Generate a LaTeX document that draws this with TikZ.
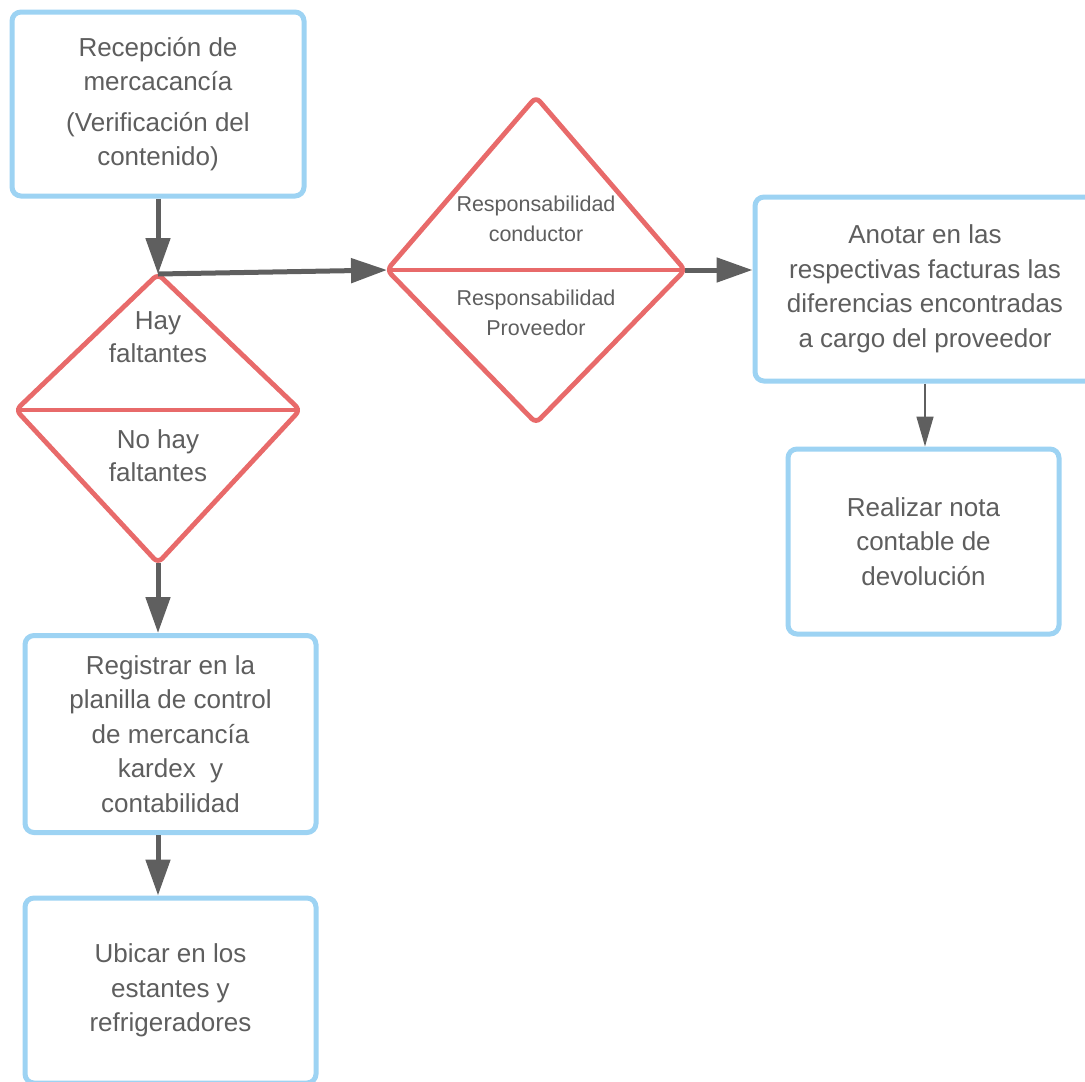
\documentclass[tikz,border=0pt]{standalone}
\usepackage{fontspec}
\setmainfont{Liberation Sans}
\usetikzlibrary{arrows.meta}
\definecolor{boxblue}{HTML}{9DD3F3}
\definecolor{decred}{HTML}{E86A6A}
\definecolor{flowgray}{HTML}{5F5F5F}
\definecolor{textgray}{HTML}{5E5E5E}
\begin{document}
\begin{tikzpicture}[x=1pt,y=-1pt,
  procbox/.style={draw=boxblue, line width=5pt, rounded corners=9pt, fill=white,
    text=textgray, align=center, inner sep=0pt,
    font=\fontsize{26}{34.5}\selectfont},
  decision/.style={draw=decred, line width=4.8pt, rounded corners=6pt, line join=round},
  dectext/.style={text=textgray, align=center, inner sep=0pt},
  flow/.style={draw=flowgray, line width=5pt, -{Triangle[length=36pt,width=24pt]}},
  thinflow/.style={draw=flowgray, line width=1.5pt, -{Triangle[length=30pt,width=17pt]}}
]
\useasboundingbox (0,0) rectangle (1085,1082);
\clip (0,0) rectangle (1085,1082);

% process boxes
\node[procbox, minimum width=292pt, minimum height=184pt] (recep) at (158,104)
  {Recepción de\\mercacancía\\[6pt](Verificación del\\contenido)};
\node[procbox, minimum width=291pt, minimum height=197pt] (registro) at (170.5,734)
  {Registrar en la\\planilla de control\\de mercancía\\kardex~ y\\contabilidad};
\node[procbox, minimum width=291pt, minimum height=185pt] (ubicar) at (170.5,990.5)
  {Ubicar en los\\estantes y\\refrigeradores};
\node[procbox, minimum width=340pt, minimum height=184pt] (anotar) at (925,289)
  {Anotar en las\\respectivas facturas las\\diferencias encontradas\\a cargo del proveedor};
\node[procbox, minimum width=271pt, minimum height=185pt] (nota) at (923.5,541.5)
  {Realizar nota\\contable de\\devolución};

% first decision: shortages
\coordinate (d1t) at (158,274);
\coordinate (d1l) at (16,410);
\coordinate (d1r) at (300,410);
\coordinate (d1b) at (158,563);
\draw[decision] (d1t) -- (d1r) -- (d1b) -- (d1l) -- cycle;
\draw[decision] (d1l) -- (d1r);
\node[dectext, font=\fontsize{26}{33}\selectfont] (hay) at (158,337) {Hay\\faltantes};
\node[dectext, font=\fontsize{26}{33}\selectfont] (nohay) at (158,456) {No hay\\faltantes};

% second decision: responsibility
\coordinate (d2t) at (536,97);
\coordinate (d2l) at (387,270);
\coordinate (d2r) at (685,270);
\coordinate (d2b) at (536,423);
\draw[decision] (d2t) -- (d2r) -- (d2b) -- (d2l) -- cycle;
\draw[decision] (d2l) -- (d2r);
\node[dectext, font=\fontsize{21.5}{30}\selectfont] (rcond) at (536,219) {Responsabilidad\\conductor};
\node[dectext, font=\fontsize{21.5}{30}\selectfont] (rprov) at (536,313) {Responsabilidad\\Proveedor};

% connectors
\draw[flow] (recep.south -| d1t) -- (d1t);
\draw[flow] (d1t) -- (d2l);
\draw[flow] (d2r) -- (anotar.west |- d2r);
\draw[thinflow] (anotar.south) -- (nota.north -| anotar.south);
\draw[flow] (d1b) -- (d1b |- registro.north);
\draw[flow] (registro.south -| d1b) -- (d1b |- ubicar.north);
\end{tikzpicture}
\end{document}
